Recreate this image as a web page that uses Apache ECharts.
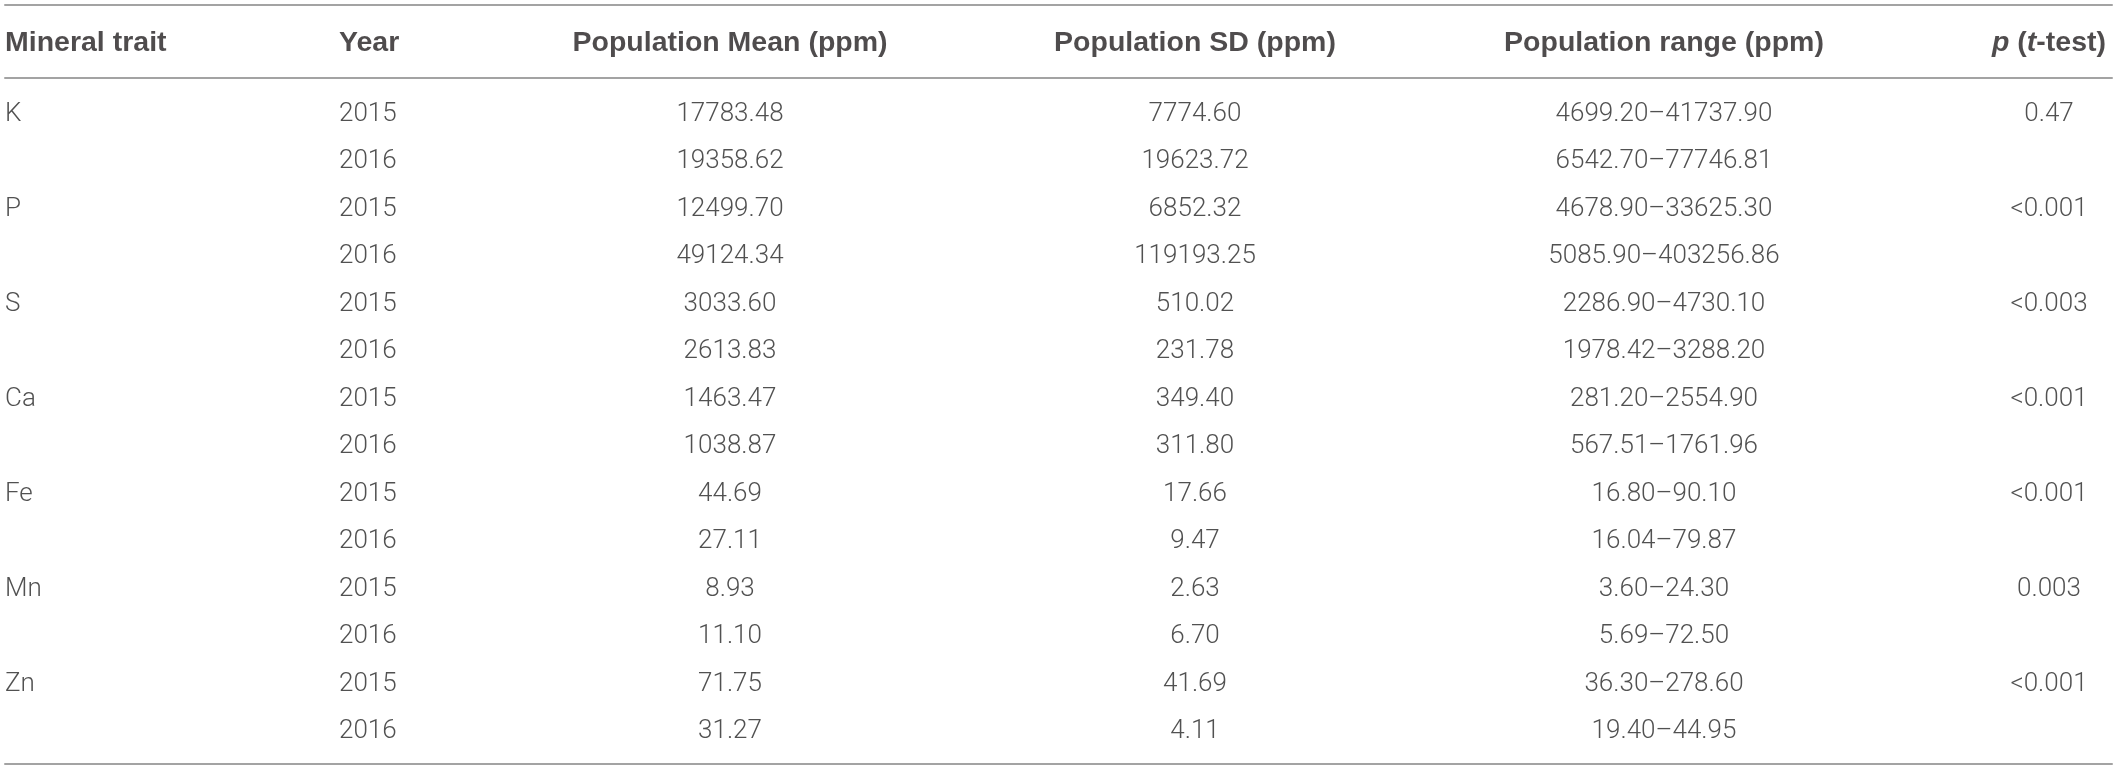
<!DOCTYPE html>
<html>
<head>
<meta charset="utf-8">
<script src="https://cdn.jsdelivr.net/npm/echarts@6/dist/echarts.min.js"></script>
<style>
  html, body { margin: 0; padding: 0; background: #fff; }
  #chart { width: 2117px; height: 769px; }
</style>
</head>
<body>
<div id="chart"></div>
<script>
// table contents
const headers = ['Mineral trait', 'Year', 'Population Mean (ppm)', 'Population SD (ppm)', 'Population range (ppm)', 'p (t-test)'];
const minerals = ['K', 'P', 'S', 'Ca', 'Fe', 'Mn', 'Zn'];
const years = ['2015', '2016'];
const meanPpm = [17783.48, 19358.62, 12499.70, 49124.34, 3033.60, 2613.83, 1463.47, 1038.87, 44.69, 27.11, 8.93, 11.10, 71.75, 31.27];
const sdPpm = [7774.60, 19623.72, 6852.32, 119193.25, 510.02, 231.78, 349.40, 311.80, 17.66, 9.47, 2.63, 6.70, 41.69, 4.11];
const rangeLow = [4699.20, 6542.70, 4678.90, 5085.90, 2286.90, 1978.42, 281.20, 567.51, 16.80, 16.04, 3.60, 5.69, 36.30, 19.40];
const rangeHigh = [41737.90, 77746.81, 33625.30, 403256.86, 4730.10, 3288.20, 2554.90, 1761.96, 90.10, 79.87, 24.30, 72.50, 278.60, 44.95];
const pTtest = ['0.47', '<0.001', '<0.003', '<0.001', '<0.001', '0.003', '<0.001'];

// layout: column anchors along the table width, and how each column aligns
const tableWidth = 2107;
const colX = [0, 334, 725, 1190, 1659, 2044];
const colAlign = ['left', 'left', 'center', 'center', 'center', 'center'];

const rows = [];
minerals.forEach(m => years.forEach(y => rows.push(m + ' ' + y)));

const lineStyle = { color: '#a3a3a3', width: 2 };
const bodyFont = { fontFamily: 'Roboto', fontWeight: 300, fontSize: 26, color: '#262626' };
const headFont = { fontFamily: 'Liberation Sans', fontWeight: 'bold', fontSize: 28.5, color: '#231f20' };

function cellText(col, i) {
    const mi = Math.floor(i / 2);
    const first = i % 2 === 0;
    switch (col) {
        case 0: return first ? minerals[mi] : '';
        case 1: return years[i % 2];
        case 2: return meanPpm[i].toFixed(2);
        case 3: return sdPpm[i].toFixed(2);
        case 4: return rangeLow[i].toFixed(2) + '\u2013' + rangeHigh[i].toFixed(2);
        case 5: return first ? pTtest[mi] : '';
    }
}

function headerText(col) {
    if (col === 5) return '{i|p} ({i|t}-test)';
    return headers[col];
}

const hiddenX = { type: 'value', min: 0, max: tableWidth, show: true, axisLabel: { show: false }, axisTick: { show: false }, splitLine: { show: false } };

const series = [];
headers.forEach((h, c) => {
    series.push({
        type: 'scatter', xAxisIndex: 0, yAxisIndex: 0, symbolSize: 0, silent: true,
        data: [[colX[c], 0]],
        label: {
            show: true, position: 'inside', align: colAlign[c], verticalAlign: 'middle', offset: [0, 2],
            formatter: () => headerText(c),
            ...headFont,
            rich: { i: { ...headFont, fontStyle: 'italic' } }
        }
    });
    series.push({
        type: 'scatter', xAxisIndex: 1, yAxisIndex: 1, symbolSize: 0, silent: true,
        data: rows.map((r, i) => [colX[c], i]),
        label: {
            show: true, position: 'inside', align: colAlign[c], verticalAlign: 'middle', offset: [0, 2],
            formatter: p => cellText(c, p.dataIndex),
            ...bodyFont
        }
    });
});

const chart = echarts.init(document.getElementById('chart'));
chart.setOption({
    animation: false,
    backgroundColor: '#fff',
    grid: [
        { left: 5, right: 5, top: 5, height: 72 },
        { left: 5, right: 5, top: 88.25, bottom: 15.75 }
    ],
    xAxis: [
        { ...hiddenX, gridIndex: 0, position: 'top', axisLine: { show: true, lineStyle } },
        { ...hiddenX, gridIndex: 1, position: 'top', offset: 11, axisLine: { show: true, lineStyle } },
        { ...hiddenX, gridIndex: 1, position: 'bottom', offset: 10, axisLine: { show: true, lineStyle } }
    ],
    yAxis: [
        { type: 'category', gridIndex: 0, data: ['header'], show: false },
        { type: 'category', gridIndex: 1, data: rows, inverse: true, show: false }
    ],
    series: series
});
</script>
</body>
</html>
